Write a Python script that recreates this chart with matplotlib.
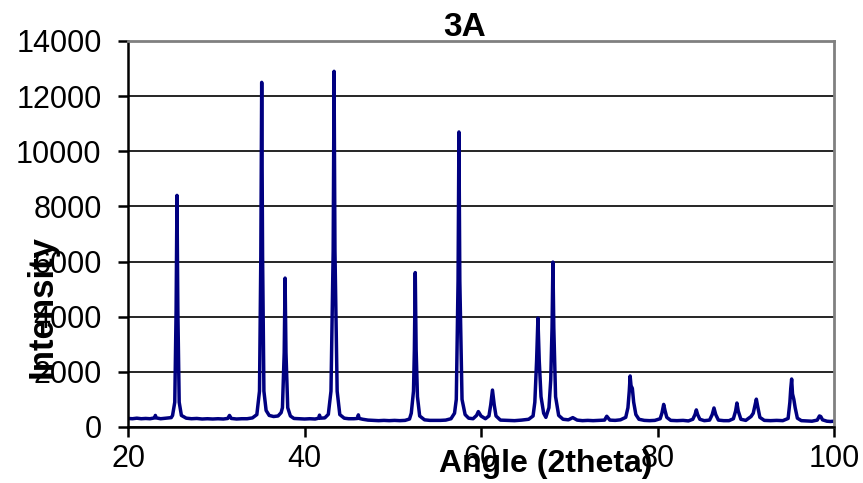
import matplotlib

matplotlib.use("Agg")
import matplotlib.pyplot as plt

plt.rcParams["font.family"] = ["Liberation Sans", "DejaVu Sans"]

# XRD scan: 2theta (degrees) and intensity (counts)
angle = [
    20.0, 20.5, 21.0, 21.5, 22.0, 22.5, 23.0, 23.1, 23.2, 23.7, 24.3, 24.9,
    25.05, 25.3, 25.45, 25.55, 25.65, 25.8, 26.05,
    26.6, 27.2, 27.8, 28.4, 29.0, 29.6, 30.2, 30.8, 31.3, 31.5, 31.7, 32.3, 32.9, 33.5, 34.1,
    34.6, 34.9, 35.05, 35.15, 35.25, 35.4, 35.65,
    36.0, 36.5, 37.0, 37.35,
    37.5, 37.7, 37.8, 37.9, 38.1, 38.4,
    38.8, 39.4, 40.0, 40.6, 41.2, 41.6, 41.7, 41.8, 42.3, 42.7,
    43.0, 43.25, 43.35, 43.45, 43.7, 44.0,
    44.5, 45.0, 45.6, 46.0, 46.1, 46.2, 46.6, 47.2, 47.8, 48.4, 49.0, 49.6, 50.2, 50.8, 51.4, 51.9,
    52.1, 52.35, 52.45, 52.55, 52.65, 52.8, 53.05,
    53.6, 54.2, 54.8, 55.4, 56.0, 56.6, 57.0,
    57.2, 57.4, 57.5, 57.6, 57.85, 58.2,
    58.6, 59.1, 59.5, 59.7, 60.0, 60.5, 60.9, 61.1, 61.3, 61.5, 61.7,
    62.2, 63.0, 63.8, 64.6, 65.4, 65.9,
    66.1, 66.3, 66.45, 66.6, 66.8, 67.1, 67.35, 67.7,
    67.9, 68.05, 68.15, 68.25, 68.45, 68.8,
    69.3, 69.9, 70.4, 70.9, 71.5, 72.1, 72.7, 73.3, 74.0, 74.25, 74.6, 75.2, 75.8, 76.4,
    76.65, 76.8, 76.9, 77.0, 77.15, 77.3, 77.55, 77.9,
    78.5, 79.1, 79.7, 80.3, 80.5, 80.7, 80.85, 81.05, 81.5, 82.2, 82.9, 83.5,
    84.0, 84.25, 84.4, 84.55, 84.8, 85.3, 85.9, 86.2, 86.4, 86.6, 86.9, 87.5, 88.1,
    88.6, 88.85, 89.0, 89.15, 89.45, 90.0, 90.6, 90.85, 91.05, 91.2, 91.35, 91.6,
    92.1, 92.8, 93.5, 94.2, 94.8,
    95.0, 95.1, 95.2, 95.3, 95.45, 95.6, 95.85,
    96.3, 96.9, 97.5, 98.1, 98.35, 98.5, 98.7, 99.2, 99.6, 100.0,
]
intensity = [
    310, 300, 320, 300, 310, 300, 330, 420, 330, 300, 320, 340,
    420, 900, 4200, 8400, 4200, 900, 420,
    320, 300, 310, 290, 300, 290, 300, 290, 310, 420, 310, 290, 300, 300, 330,
    450, 1300, 6200, 12500, 6200, 1300, 600,
    420, 380, 400, 520,
    700, 2700, 5400, 2700, 700, 400,
    310, 300, 290, 300, 290, 320, 430, 320, 330, 460,
    1300, 6400, 12900, 6400, 1300, 450,
    320, 300, 300, 310, 440, 310, 280, 250, 240, 230, 240, 230, 240, 230, 240, 290,
    500, 1300, 2800, 5600, 2800, 1100, 400,
    260, 240, 240, 240, 250, 300, 500,
    1000, 5300, 10700, 5300, 1000, 450,
    320, 300, 420, 560, 400, 300, 400, 800, 1340, 800, 400,
    250, 240, 230, 250, 280, 400,
    900, 2400, 3950, 2400, 1100, 500, 350, 700,
    1700, 3600, 5980, 3600, 1100, 420,
    280, 260, 340, 250, 230, 240, 230, 240, 250, 390, 250, 240, 260, 350,
    700, 1300, 1850, 1500, 1400, 900, 450, 280,
    240, 230, 240, 300, 500, 820, 600, 350, 240, 230, 240, 220,
    280, 450, 620, 450, 280, 230, 250, 450, 690, 450, 250, 230, 230,
    300, 580, 870, 580, 280, 240, 380, 500, 800, 1010, 750, 350,
    240, 230, 240, 230, 310,
    900, 1400, 1740, 1200, 1000, 700, 320,
    230, 220, 210, 250, 400, 380, 260, 210, 200, 210,
]

x_ticks = [20, 40, 60, 80, 100]
y_ticks = [0, 2000, 4000, 6000, 8000, 10000, 12000, 14000]


def main() -> None:
    fig = plt.figure(figsize=(8.63, 4.83), dpi=100)
    ax = fig.add_axes([128 / 863, 1 - 427 / 483, 706 / 863, 386 / 483])

    ax.plot(angle, intensity, color="#000080", linewidth=2.5, solid_joinstyle="round")

    ax.set_xlim(20, 100)
    ax.set_ylim(0, 14000)
    ax.set_xticks(x_ticks)
    ax.set_yticks(y_ticks)
    ax.tick_params(axis="both", direction="out", length=7, width=1.8, labelsize=22, colors="black")
    ax.tick_params(axis="y", pad=12)
    ax.tick_params(axis="x", pad=5)
    ax.grid(axis="y", color="black", linewidth=1.2)
    ax.set_axisbelow(True)

    for side in ("top", "right"):
        ax.spines[side].set_color("#808080")
        ax.spines[side].set_linewidth(2)
    ax.spines["left"].set_linewidth(1.8)
    ax.spines["bottom"].set_linewidth(1.8)

    # Excel-style labels that sit on top of the tick labels, as in the source
    fig.text(465 / 863, 1 - 27 / 483, "3A", ha="center", va="center", fontsize=24, fontweight="bold")
    fig.text(546 / 863, 1 - 464 / 483, "Angle (2theta)", ha="center", va="center", fontsize=23,
             fontweight="bold")
    fig.text(42 / 863, 1 - 307 / 483, "Intensity", ha="center", va="center", rotation=90,
             fontsize=25, fontweight="bold")

    fig.savefig("out.png", dpi=100)
    plt.close(fig)


if __name__ == "__main__":
    main()
